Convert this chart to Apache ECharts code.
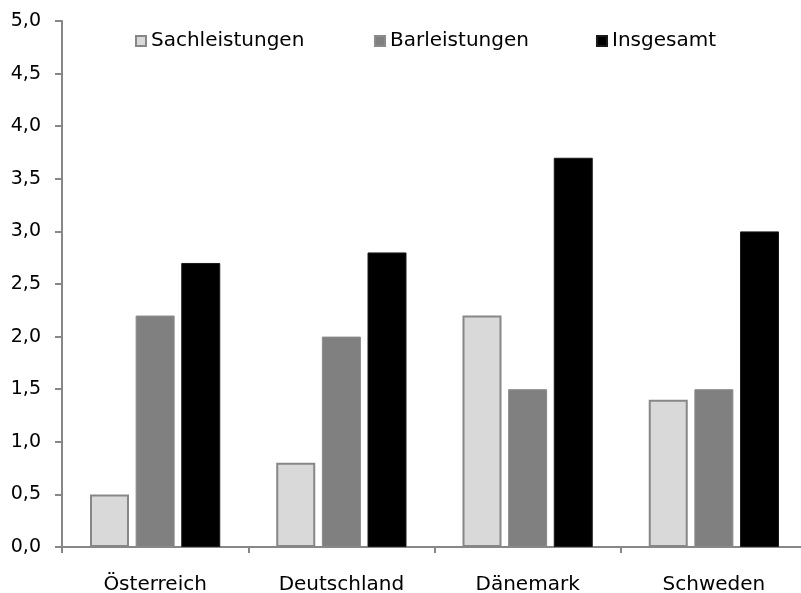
<!DOCTYPE html>
<html>
<head>
<meta charset="utf-8">
<script src="https://cdn.jsdelivr.net/npm/echarts@6/dist/echarts.min.js"></script>
<style>
  html, body { margin: 0; padding: 0; background: #ffffff; }
  #chart { width: 801px; height: 593px; }
</style>
</head>
<body>
<div id="chart"></div>
<script>
// Länder und Leistungsarten (Anteil am BIP, in %)
const countries = ['Österreich', 'Deutschland', 'Dänemark', 'Schweden'];
const sachleistungen = [0.5, 0.8, 2.2, 1.4];
const barleistungen = [2.2, 2.0, 1.5, 1.5];
const insgesamt = [2.7, 2.8, 3.7, 3.0];
const yTickLabels = ['0,0', '0,5', '1,0', '1,5', '2,0', '2,5', '3,0', '3,5', '4,0', '4,5', '5,0'];

const FONT = 'DejaVu Sans';
const AXIS_GREY = '#878787';

const chart = echarts.init(document.getElementById('chart'), null, { renderer: 'canvas' });

function legendAt(name, left) {
  return {
    data: [name],
    left: left,
    top: 31,
    icon: 'rect',
    itemWidth: 10,
    itemHeight: 10,
    itemGap: 0,
    padding: 0,
    textStyle: { fontFamily: FONT, fontSize: 20, color: '#000000', padding: [0, 0, 0, 0] }
  };
}

chart.setOption({
  animation: false,
  backgroundColor: '#ffffff',
  legend: [
    legendAt('Sachleistungen', 135),
    legendAt('Barleistungen', 374),
    legendAt('Insgesamt', 596)
  ],
  // the plot runs a few pixels past the right edge of the canvas
  grid: { left: 62, width: 745, top: 21, bottom: 46, containLabel: false, outerBoundsMode: 'none' },
  xAxis: {
    type: 'category',
    data: countries,
    axisLine: { lineStyle: { color: AXIS_GREY, width: 2 } },
    axisTick: { show: true, length: 6, alignWithLabel: false, lineStyle: { color: AXIS_GREY, width: 2 } },
    axisLabel: { fontFamily: FONT, fontSize: 20, color: '#000000', margin: 28 },
    splitLine: { show: false }
  },
  yAxis: {
    type: 'value',
    min: 0,
    max: 5,
    interval: 0.5,
    axisLine: { show: true, lineStyle: { color: AXIS_GREY, width: 2 } },
    axisTick: { show: true, length: 7, lineStyle: { color: AXIS_GREY, width: 2 } },
    axisLabel: {
      fontFamily: FONT, fontSize: 19, color: '#000000', margin: 21,
      formatter: function (v) { return yTickLabels[Math.round(v / 0.5)]; }
    },
    splitLine: { show: false }
  },
  series: [
    {
      name: 'Sachleistungen',
      type: 'bar',
      data: sachleistungen,
      barWidth: 39,
      barGap: '17%',
      itemStyle: { color: '#d9d9d9', borderColor: '#878787', borderWidth: 2 }
    },
    {
      name: 'Barleistungen',
      type: 'bar',
      data: barleistungen,
      barWidth: 39,
      barGap: '17%',
      itemStyle: { color: '#808080', borderColor: '#8a8a8a', borderWidth: 1 }
    },
    {
      name: 'Insgesamt',
      type: 'bar',
      data: insgesamt,
      barWidth: 39,
      barGap: '17%',
      itemStyle: { color: '#000000', borderColor: '#1a1a1a', borderWidth: 1 }
    }
  ]
});
</script>
</body>
</html>
